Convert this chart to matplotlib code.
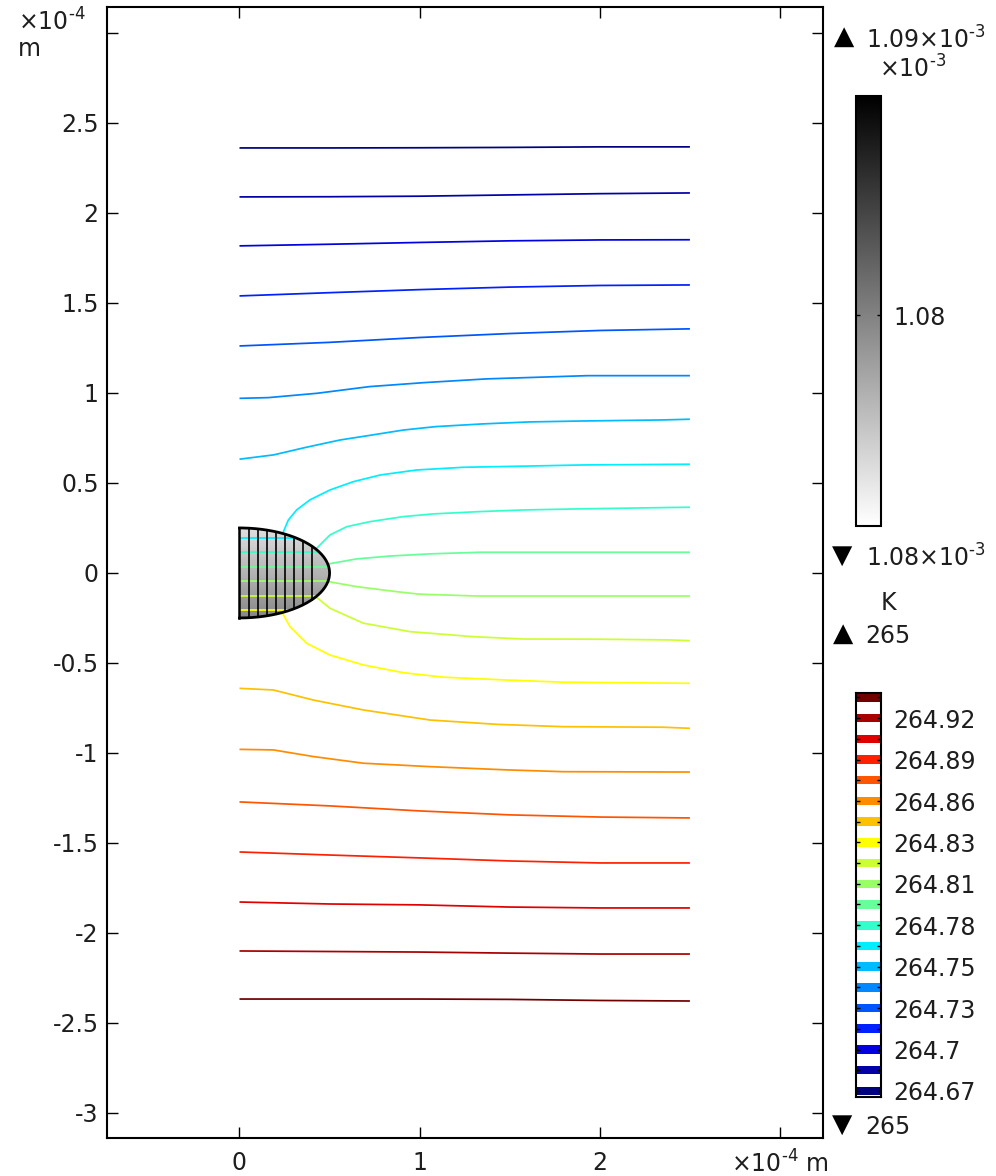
import numpy as np
import matplotlib
matplotlib.use("Agg")
import matplotlib.pyplot as plt
from matplotlib.patches import Polygon
from matplotlib.colors import Normalize
from matplotlib.cm import ScalarMappable

plt.rcParams["font.family"] = ["DejaVu Sans"]
plt.rcParams["axes.unicode_minus"] = False
plt.rcParams["mathtext.default"] = "regular"

# ---------------------------------------------------------------- data
# Isotherm levels (K) and their colours, coldest first
iso_levels = [264.6715, 264.6851, 264.6986, 264.7122, 264.7257,
              264.7393, 264.7528, 264.7664, 264.7799, 264.7935,
              264.8070, 264.8206, 264.8341, 264.8477, 264.8612,
              264.8748, 264.8883, 264.9019, 264.9154, 264.9290]
iso_colors = ["#000080", "#0000a8", "#0000e0", "#0020ff", "#0055ff",
              "#0088ff", "#00bbff", "#00eeff", "#33ffcc", "#66ff99",
              "#99ff66", "#ccff33", "#ffff00", "#ffc000", "#ff8c00",
              "#ff5500", "#ff2000", "#e00000", "#a80000", "#700000"]

# Far-field isotherms sampled at common r stations (1e-4 m)
r_far = [0.0, 0.5, 1.0, 1.5, 2.0, 2.5]
iso_00_z = [2.361, 2.361, 2.362, 2.364, 2.367, 2.367]
iso_01_z = [2.089, 2.090, 2.093, 2.100, 2.107, 2.111]
iso_02_z = [1.817, 1.826, 1.836, 1.845, 1.850, 1.851]
iso_03_z = [1.539, 1.557, 1.574, 1.588, 1.597, 1.600]
iso_04_z = [1.261, 1.281, 1.308, 1.330, 1.347, 1.356]
iso_15_z = [-1.272, -1.294, -1.322, -1.344, -1.356, -1.361]
iso_16_z = [-1.550, -1.567, -1.583, -1.600, -1.611, -1.611]
iso_17_z = [-1.828, -1.839, -1.844, -1.856, -1.861, -1.861]
iso_18_z = [-2.100, -2.103, -2.106, -2.112, -2.117, -2.117]
iso_19_z = [-2.367, -2.367, -2.367, -2.369, -2.375, -2.378]

# Isotherms bent by the droplet
iso_05_r = [0.0, 0.16, 0.43, 0.72, 1.02, 1.37, 1.93, 2.5]
iso_05_z = [0.970, 0.974, 0.998, 1.035, 1.057, 1.078, 1.096, 1.096]
iso_06_r = [0.0, 0.19, 0.37, 0.56, 0.74, 0.91, 1.09, 1.35, 1.61, 1.89, 2.35, 2.5]
iso_06_z = [0.632, 0.656, 0.698, 0.739, 0.767, 0.794, 0.813, 0.828, 0.839, 0.844, 0.850, 0.854]
iso_07_r = [0.24, 0.271, 0.317, 0.391, 0.502, 0.632, 0.78, 0.983, 1.242, 1.612, 1.908, 2.5]
iso_07_z = [0.22, 0.294, 0.35, 0.406, 0.461, 0.507, 0.544, 0.572, 0.587, 0.594, 0.60, 0.604]
iso_08_r = [0.419, 0.502, 0.595, 0.724, 0.909, 1.075, 1.335, 1.575, 1.89, 2.35, 2.5]
iso_08_z = [0.128, 0.211, 0.257, 0.285, 0.313, 0.328, 0.341, 0.35, 0.356, 0.363, 0.365]
iso_09_r = [0.493, 0.65, 0.835, 1.057, 1.335, 1.797, 2.5]
iso_09_z = [0.05, 0.078, 0.094, 0.106, 0.115, 0.115, 0.115]
iso_10_r = [0.493, 0.65, 0.872, 1.0, 1.316, 1.797, 2.5]
iso_10_z = [-0.048, -0.076, -0.104, -0.118, -0.128, -0.128, -0.128]
iso_11_r = [0.419, 0.502, 0.687, 0.946, 1.297, 1.575, 1.982, 2.389, 2.5]
iso_11_z = [-0.128, -0.196, -0.279, -0.326, -0.354, -0.367, -0.368, -0.372, -0.376]
iso_12_r = [0.234, 0.28, 0.373, 0.502, 0.687, 0.909, 1.131, 1.464, 1.797, 2.5]
iso_12_z = [-0.215, -0.298, -0.391, -0.456, -0.511, -0.554, -0.579, -0.594, -0.607, -0.613]
iso_13_r = [0.0, 0.187, 0.41, 0.687, 1.057, 1.427, 1.797, 2.352, 2.5]
iso_13_z = [-0.641, -0.65, -0.706, -0.761, -0.817, -0.841, -0.854, -0.857, -0.863]
iso_14_r = [0.0, 0.187, 0.41, 0.687, 1.057, 1.483, 1.797, 2.5]
iso_14_z = [-0.98, -0.983, -1.02, -1.057, -1.076, -1.094, -1.104, -1.106]

# Isotherm heights inside the droplet (levels 7..12)
drop_levels = [7, 8, 9, 10, 11, 12]
drop_inner_z = [0.196, 0.115, 0.035, -0.044, -0.126, -0.206]

# Droplet geometry and the second field shown inside it
drop_rx, drop_rz = 0.5, 0.25
drop_contour_r = [0.05, 0.10, 0.15, 0.20, 0.25, 0.30, 0.35, 0.40]
gray_min, gray_max = 1.0751, 1.0851        # x 1e-3
gray_top, gray_bottom = 1.0763, 1.0798     # x 1e-3
gray_ticks = [1.08]

x_ticks = [0, 1, 2, 3]
y_ticks = [-3, -2.5, -2, -1.5, -1, -0.5, 0, 0.5, 1, 1.5, 2, 2.5, 3]

t_max = 264.95
t_min = 264.66

# ---------------------------------------------------------------- layout
W, H = 996, 1176
FS = 17
TXT = "#1e1e1e"
LW = 1.25


def box(l, t, r, b):
    return [l / W, 1 - b / H, (r - l) / W, (b - t) / H]


def ftext(x, y, s, **kw):
    kw.setdefault("fontsize", FS)
    kw.setdefault("color", TXT)
    kw.setdefault("va", "center")
    fig.text(x / W, 1 - y / H, s, **kw)


def sci(exp):
    # "×10" with a superscript exponent written with a plain hyphen
    return "×10$^{\u2010" + str(abs(exp)) + "}$" if exp < 0 else "×10$^{" + str(exp) + "}$"


fig = plt.figure(figsize=(W / 100, H / 100), dpi=100)
fig.patch.set_facecolor("white")
ax = fig.add_axes(box(107, 7, 823, 1138))

# droplet: gray fill clipped to the half ellipse
t = np.linspace(-np.pi / 2, np.pi / 2, 181)
er = drop_rx * np.cos(t)
ez = drop_rz * np.sin(t)
drop_poly = Polygon(np.column_stack([er, ez]), closed=True,
                    facecolor="none", edgecolor="none")
ax.add_patch(drop_poly)
gz = np.linspace(gray_bottom, gray_top, 100)[:, None] * np.ones((1, 50))
gnorm = Normalize(gray_min, gray_max)
im = ax.imshow(gz, extent=[0, drop_rx, -drop_rz, drop_rz], origin="lower",
               cmap="gray_r", norm=gnorm, aspect="auto",
               interpolation="bilinear", zorder=1)
im.set_clip_path(drop_poly)

# isotherms inside the droplet
for lev, zc in zip(drop_levels, drop_inner_z):
    r_end = drop_rx * np.sqrt(1 - (zc / drop_rz) ** 2)
    ax.plot([0, r_end], [zc, zc], color=iso_colors[lev], lw=LW,
            solid_capstyle="butt", zorder=2)

# contours of the droplet field
for rc in drop_contour_r:
    h = drop_rz * np.sqrt(1 - (rc / drop_rx) ** 2)
    ax.plot([rc, rc], [-h, h], color="black", lw=1.2, zorder=3)
ax.plot(er, ez, color="black", lw=2.0, zorder=4)
ax.plot([0, 0], [-drop_rz, drop_rz], color="black", lw=1.8, zorder=4)

# isotherms outside the droplet
lines = [
    (r_far, iso_00_z), (r_far, iso_01_z), (r_far, iso_02_z),
    (r_far, iso_03_z), (r_far, iso_04_z), (iso_05_r, iso_05_z),
    (iso_06_r, iso_06_z), (iso_07_r, iso_07_z), (iso_08_r, iso_08_z),
    (iso_09_r, iso_09_z), (iso_10_r, iso_10_z), (iso_11_r, iso_11_z),
    (iso_12_r, iso_12_z), (iso_13_r, iso_13_z), (iso_14_r, iso_14_z),
    (r_far, iso_15_z), (r_far, iso_16_z), (r_far, iso_17_z),
    (r_far, iso_18_z), (r_far, iso_19_z),
]
for (rr, zz), col in zip(lines, iso_colors):
    ax.plot(rr, zz, color=col, lw=LW, solid_capstyle="butt", zorder=2)

ax.set_xlim(-0.7354, 3.2387)
ax.set_ylim(-3.139, 3.144)

ax.set_xticks(x_ticks)
ax.set_xticklabels([f"{v:g}" for v in x_ticks[:-1]] + [sci(-4) + " m"])
ax.set_yticks(y_ticks)
ax.set_yticklabels([f"{v:g}" for v in y_ticks[:-1]] + [""])
ax.tick_params(direction="in", length=8, width=1.0, top=True, right=True,
               labelsize=FS, labelcolor=TXT, color="black")
ax.tick_params(axis="y", pad=6)
ax.tick_params(axis="x", pad=9)
for s in ax.spines.values():
    s.set_linewidth(1.5)
    s.set_color("black")

ftext(18, 22, sci(-4), ha="left")
ftext(18, 49, "m", ha="left")

# gray colour legend
cax1 = fig.add_axes(box(856, 96, 881, 526))
cb1 = fig.colorbar(ScalarMappable(norm=gnorm, cmap="gray_r"), cax=cax1)
cb1.set_ticks(gray_ticks)
cb1.set_ticklabels([f"{v:g}" for v in gray_ticks])
cax1.tick_params(direction="in", length=3, width=1.0, left=True, right=True,
                 labelsize=FS, labelcolor=TXT, pad=9)
cb1.outline.set_linewidth(1.5)

ftext(834, 37, "▲", ha="left", fontsize=19, color="black")
ftext(866, 40, f"{gray_max:.3g}" + sci(-3), ha="left")
ftext(879, 69, sci(-3), ha="left")
ftext(832, 556, "▼", ha="left", fontsize=19, color="black")
ftext(866, 558, f"{gray_min:.3g}" + sci(-3), ha="left")

# temperature contour legend
step = iso_levels[1] - iso_levels[0]
cax2 = fig.add_axes(box(856, 693, 881, 1097))
cax2.set_xlim(0, 1)
cax2.set_ylim(iso_levels[0] - 0.29 * step, iso_levels[-1] + 0.21 * step)
cax2.barh(iso_levels, 1.0, height=0.41 * step, left=0, color=iso_colors)
cax2.set_xticks([])
cax2.set_yticks(iso_levels)
cax2.set_yticklabels([f"{v:.5g}" if i % 2 == 0 else ""
                      for i, v in enumerate(iso_levels)])
cax2.tick_params(direction="in", length=3, width=1.0, left=True, right=True,
                 labelleft=False, labelright=True, labelsize=FS,
                 labelcolor=TXT, pad=9)
for s in cax2.spines.values():
    s.set_linewidth(1.5)

ftext(881, 603, "K", ha="left")
ftext(833, 634, "▲", ha="left", fontsize=19, color="black")
ftext(865, 636, f"{t_max:.3g}", ha="left")
ftext(832, 1125, "▼", ha="left", fontsize=19, color="black")
ftext(865, 1127, f"{t_min:.3g}", ha="left")

fig.savefig("out.png", dpi=100, facecolor="white")
